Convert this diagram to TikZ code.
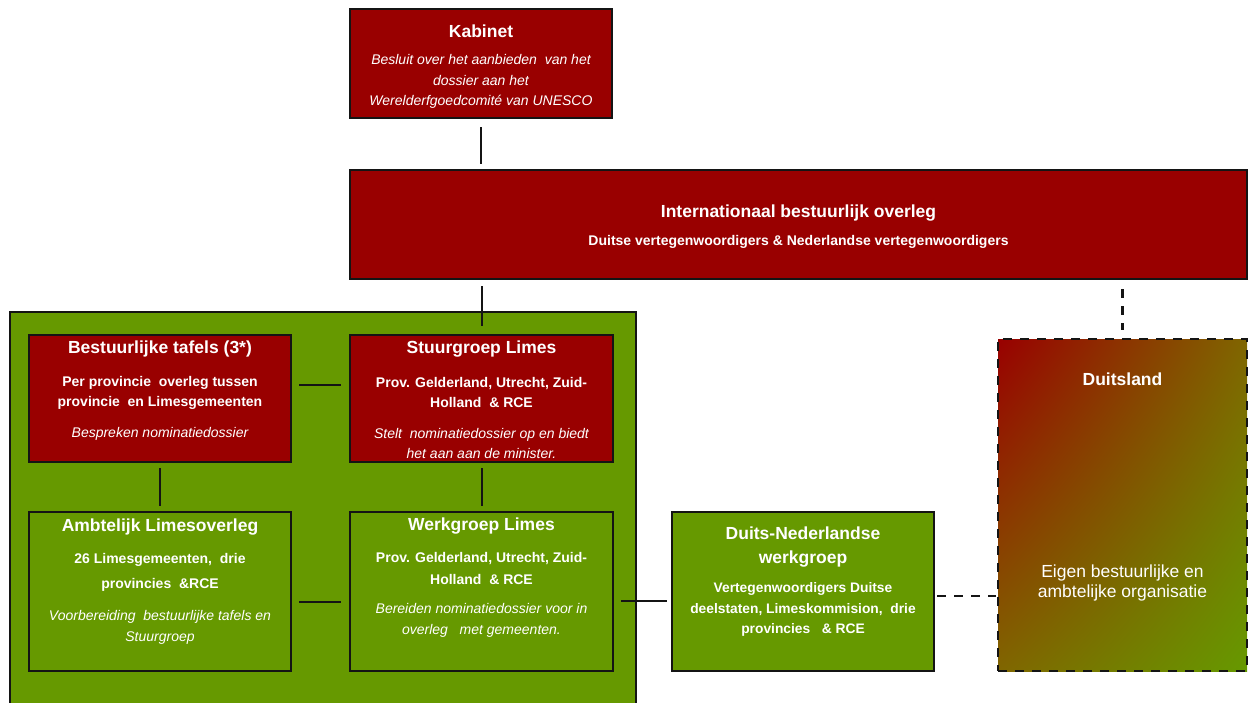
\documentclass[tikz,border=0pt]{standalone}
\usepackage{fontspec}
\setmainfont{Liberation Sans}
\usetikzlibrary{calc,shadings}
\definecolor{dred}{HTML}{990000}
\definecolor{dgreen}{HTML}{669900}
\definecolor{olive}{HTML}{806600}
\definecolor{edge}{HTML}{141414}
\newcommand\fsz[2]{\fontsize{#1}{#2}\selectfont}
\tikzset{
  boxbase/.style={draw=edge, line width=2pt, inner sep=0pt},
  redbox/.style={boxbase, fill=dred},
  greenbox/.style={boxbase, fill=dgreen},
  ttl/.style={text=white, font=\fsz{17.5}{24}\bfseries, align=center, inner sep=0pt},
  bodyb/.style={text=white, font=\fsz{14}{20.5}\bfseries, align=center, inner sep=0pt},
  bodyi/.style={text=white, font=\fsz{14}{20.5}\itshape, align=center, inner sep=0pt},
  conn/.style={draw=edge, line width=2pt},
  dconn/.style={draw=edge, line width=2.3pt, dash pattern=on 9pt off 8pt},
}
\begin{document}
\begin{tikzpicture}[x=1pt,y=-1pt]
\useasboundingbox (0,0) rectangle (1251,702);
\fill[white] (0,0) rectangle (1251,702);
% big green container
\begin{scope}
\clip (0,0) rectangle (1251,702);
\node[greenbox, minimum width=626pt, minimum height=400pt, anchor=north west] (cont) at (9,311) {};
\end{scope}
% Kabinet
\node[redbox, minimum width=262pt, minimum height=109pt] (kab) at (481,63.5) {};
\node[ttl] (kabT) at (481,31) {Kabinet};
\node[bodyi] (kabB) at (481,81.5) {Besluit over het aanbieden\ \ van het\\dossier aan het\\Werelderfgoedcomit\'e van UNESCO};
% International
\node[redbox, minimum width=897pt, minimum height=109pt] (intl) at (798.5,224.5) {};
\node[ttl] (intlT) at (798.5,213.5) {Internationaal bestuurlijk overleg};
\node[bodyb, font=\fsz{14}{16}\bfseries] (intlB) at (798.5,242) {Duitse vertegenwoordigers \& Nederlandse vertegenwoordigers};
% Bestuurlijke tafels
\node[redbox, minimum width=262pt, minimum height=127pt] (best) at (160,398.5) {};
\node[ttl] (bestT) at (160,349) {Bestuurlijke tafels (3*)};
\node[bodyb] (bestB) at (160,393) {Per provincie\ \ overleg tussen\\provincie\ \ en Limesgemeenten};
\node[bodyi] (bestI) at (160,434) {Bespreken nominatiedossier};
% Stuurgroep
\node[redbox, minimum width=263pt, minimum height=127pt] (stuur) at (481.5,398.5) {};
\node[ttl] (stuurT) at (481.5,349) {Stuurgroep Limes};
\node[bodyb] (stuurB) at (481.5,392.5) {Prov. Gelderland, Utrecht, Zuid-\\Holland\ \ \& RCE};
\node[bodyi] (stuurI) at (481.5,443.5) {Stelt\ \ nominatiedossier op en biedt\\het aan aan de minister.};
% Ambtelijk
\node[greenbox, minimum width=262pt, minimum height=159pt] (amb) at (160,591.5) {};
\node[ttl] (ambT) at (160,527) {Ambtelijk Limesoverleg};
\node[bodyb, font=\fsz{14}{25}\bfseries] (ambB) at (160,572.5) {26 Limesgemeenten,\ \ drie\\provincies\ \ \&RCE};
\node[bodyi] (ambI) at (160,627.5) {Voorbereiding\ \ bestuurlijke tafels en\\Stuurgroep};
% Werkgroep
\node[greenbox, minimum width=263pt, minimum height=159pt] (werk) at (481.5,591.5) {};
\node[ttl] (werkT) at (481.5,526) {Werkgroep Limes};
\node[bodyb, font=\fsz{14}{22}\bfseries] (werkB) at (481.5,568.5) {Prov. Gelderland, Utrecht, Zuid-\\Holland\ \ \& RCE};
\node[bodyi] (werkI) at (481.5,620.5) {Bereiden nominatiedossier voor in\\overleg\ \ \ met gemeenten.};
% Duits-Nederlandse werkgroep
\node[greenbox, minimum width=262pt, minimum height=159pt] (dn) at (803,591.5) {};
\node[ttl] (dnT) at (803,547.5) {Duits-Nederlandse\\werkgroep};
\node[bodyb, font=\fsz{13.8}{20.5}\bfseries] (dnB) at (803,609.5) {Vertegenwoordigers Duitse\\deelstaten, Limeskommision,\ \ drie\\provincies\ \ \ \& RCE};
% Duitsland
\shade[upper left=dred, lower right=dgreen, upper right=olive, lower left=olive] (998,339) rectangle (1247,671);
\node[dconn, fill=none, minimum width=249pt, minimum height=332pt, inner sep=0pt] (duits) at (1122.5,505) {};
\node[ttl] (duitsT) at (1122.5,379.5) {Duitsland};
\node[text=white, font=\fsz{17.5}{20.5}, align=center, inner sep=0pt] (duitsB) at (1122.5,583) {Eigen bestuurlijke en\\ambtelijke organisatie};
% connectors
\draw[conn, shorten <=8pt, shorten >=5pt] (kab.south) -- (kab.south |- intl.north);
\draw[conn, shorten <=6pt, shorten >=8pt] (intl.south -| stuur.north) -- (stuur.north);
\draw[dconn, shorten <=9pt, shorten >=8pt] (intl.south -| duits.north) -- (duits.north);
\draw[conn, shorten <=7pt, shorten >=8pt] ([yshift=13.5pt]best.east) -- ([yshift=13.5pt]stuur.west);
\draw[conn, shorten <=7pt, shorten >=8pt] ([yshift=-10.5pt]amb.east) -- ([yshift=-10.5pt]werk.west);
\draw[conn, shorten <=5pt, shorten >=5pt] (best.south) -- (amb.north);
\draw[conn, shorten <=5pt, shorten >=5pt] (stuur.south) -- (werk.north);
\draw[conn, shorten <=7pt, shorten >=4pt] ([yshift=-9.5pt]werk.east) -- ([yshift=-9.5pt]dn.west);
\draw[dconn, shorten <=2pt, shorten >=1pt] ([yshift=-4.5pt]dn.east) -- ([yshift=-4.5pt]dn.east -| duits.west);
\end{tikzpicture}
\end{document}
